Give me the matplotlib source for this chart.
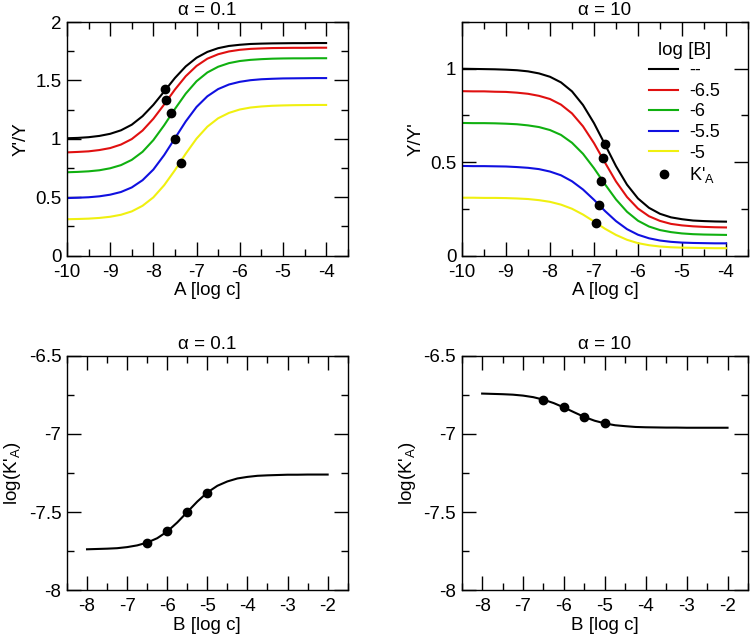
import matplotlib
matplotlib.use('Agg')
import matplotlib.pyplot as plt
from matplotlib.ticker import MultipleLocator, FormatStrFormatter

plt.rcParams['font.family'] = ['Liberation Sans', 'DejaVu Sans']
plt.rcParams['font.size'] = 13.5
plt.rcParams['axes.titlesize'] = 13.5
plt.rcParams['mathtext.default'] = 'regular'
plt.rcParams['axes.unicode_minus'] = False

# log [B] series (black = no B)
b_labels = ['--', '-6.5', '-6', '-5.5', '-5']
colors = ['black', '#e01010', '#10b010', '#1010e0', '#f0f010']

# top panels: x = log [A]
a_log = [-10, -9.75, -9.5, -9.25, -9, -8.75, -8.5, -8.25, -8, -7.75, -7.5, -7.25, -7,
         -6.75, -6.5, -6.25, -6, -5.75, -5.5, -5.25, -5, -4.75, -4.5, -4.25, -4]

# alpha = 0.1, Y'/Y
ratio_low = [
    [1.005, 1.008, 1.014, 1.025, 1.043, 1.073, 1.121, 1.194, 1.291, 1.405, 1.521, 1.620,
     1.694, 1.744, 1.776, 1.795, 1.805, 1.812, 1.815, 1.817, 1.818, 1.819, 1.819, 1.820, 1.820],
    [0.884, 0.888, 0.893, 0.904, 0.921, 0.951, 0.998, 1.071, 1.172, 1.294, 1.422, 1.536,
     1.624, 1.686, 1.724, 1.748, 1.762, 1.770, 1.774, 1.777, 1.778, 1.779, 1.779, 1.780, 1.780],
    [0.714, 0.717, 0.722, 0.731, 0.748, 0.775, 0.820, 0.889, 0.989, 1.116, 1.256, 1.387,
     1.493, 1.568, 1.617, 1.648, 1.666, 1.676, 1.682, 1.686, 1.688, 1.689, 1.689, 1.690, 1.690],
    [0.493, 0.496, 0.500, 0.508, 0.522, 0.545, 0.584, 0.646, 0.737, 0.861, 1.005, 1.149,
     1.273, 1.364, 1.426, 1.465, 1.488, 1.502, 1.510, 1.514, 1.517, 1.518, 1.519, 1.520, 1.520],
    [0.312, 0.314, 0.317, 0.323, 0.333, 0.350, 0.379, 0.427, 0.499, 0.603, 0.732, 0.873,
     1.002, 1.104, 1.176, 1.222, 1.251, 1.268, 1.277, 1.283, 1.286, 1.288, 1.289, 1.290, 1.290],
]
ka_x_low = [-7.74, -7.70, -7.60, -7.50, -7.37]
ka_y_low = [1.43, 1.33, 1.22, 1.00, 0.79]

# alpha = 10, Y/Y'
ratio_high = [
    [1.000, 0.999, 0.998, 0.997, 0.995, 0.992, 0.986, 0.975, 0.957, 0.927, 0.879, 0.806,
     0.709, 0.595, 0.479, 0.380, 0.306, 0.256, 0.224, 0.205, 0.195, 0.188, 0.185, 0.183, 0.182],
    [0.880, 0.879, 0.879, 0.877, 0.876, 0.872, 0.866, 0.855, 0.838, 0.808, 0.761, 0.692,
     0.602, 0.498, 0.397, 0.314, 0.252, 0.211, 0.186, 0.170, 0.162, 0.157, 0.154, 0.152, 0.151],
    [0.710, 0.709, 0.709, 0.708, 0.706, 0.703, 0.697, 0.688, 0.672, 0.646, 0.604, 0.545,
     0.468, 0.382, 0.301, 0.235, 0.187, 0.156, 0.137, 0.126, 0.119, 0.115, 0.113, 0.112, 0.111],
    [0.480, 0.479, 0.479, 0.478, 0.477, 0.474, 0.470, 0.463, 0.450, 0.430, 0.398, 0.354,
     0.299, 0.239, 0.185, 0.142, 0.112, 0.093, 0.081, 0.074, 0.070, 0.068, 0.067, 0.066, 0.066],
    [0.310, 0.310, 0.309, 0.309, 0.308, 0.306, 0.303, 0.297, 0.288, 0.273, 0.251, 0.220,
     0.183, 0.144, 0.111, 0.085, 0.067, 0.056, 0.049, 0.045, 0.043, 0.042, 0.041, 0.040, 0.040],
]
ka_x_high = [-6.74, -6.79, -6.83, -6.89, -6.95]
ka_y_high = [0.60, 0.52, 0.40, 0.27, 0.175]

# bottom panels: x = log [B]
b_log = [-8, -7.75, -7.5, -7.25, -7, -6.75, -6.5, -6.25, -6, -5.75, -5.5, -5.25, -5,
         -4.75, -4.5, -4.25, -4, -3.75, -3.5, -3.25, -3, -2.75, -2.5, -2.25, -2]
logka_low = [-7.739, -7.737, -7.735, -7.732, -7.725, -7.714, -7.696, -7.668, -7.625,
             -7.567, -7.500, -7.433, -7.375, -7.332, -7.304, -7.285, -7.275, -7.268,
             -7.265, -7.263, -7.261, -7.261, -7.260, -7.260, -7.260]
logka_high = [-6.741, -6.743, -6.745, -6.748, -6.754, -6.764, -6.780, -6.802, -6.830,
              -6.861, -6.891, -6.915, -6.932, -6.944, -6.950, -6.955, -6.957, -6.958,
              -6.959, -6.959, -6.960, -6.960, -6.960, -6.960, -6.960]
b_dots = [-6.5, -6, -5.5, -5]
logka_dots_low = [-7.70, -7.62, -7.50, -7.38]
logka_dots_high = [-6.78, -6.83, -6.89, -6.93]


def style(ax):
    ax.xaxis.set_major_locator(MultipleLocator(1))
    ax.xaxis.set_minor_locator(MultipleLocator(0.5))
    ax.yaxis.set_major_locator(MultipleLocator(0.5))
    ax.yaxis.set_minor_locator(MultipleLocator(0.25))
    ax.xaxis.set_major_formatter(FormatStrFormatter('%g'))
    ax.yaxis.set_major_formatter(FormatStrFormatter('%g'))
    ax.tick_params(which='both', direction='in', top=True, right=True, width=1)
    ax.tick_params(which='major', length=10, labelsize=13.5)
    ax.tick_params(axis='x', which='major', pad=6)
    ax.tick_params(axis='y', which='major', pad=4)
    ax.tick_params(which='minor', length=5)
    for s in ax.spines.values():
        s.set_linewidth(1)


fig = plt.figure(figsize=(7.5, 6.36), dpi=100)
ax1 = fig.add_axes([0.0893, 0.598, 0.3743, 0.3674])
ax2 = fig.add_axes([0.616, 0.598, 0.3813, 0.3674])
ax3 = fig.add_axes([0.0893, 0.0723, 0.3743, 0.368])
ax4 = fig.add_axes([0.6156, 0.0723, 0.3817, 0.368])

for ys, c in zip(ratio_low, colors):
    ax1.plot(a_log, ys, color=c, lw=1.5)
ax1.plot(ka_x_low, ka_y_low, 'o', color='black', ms=6, ls='none')
ax1.set_xlim(-10, -3.5)
ax1.set_ylim(0, 2)
style(ax1)
ax1.set_title('α = 0.1', pad=5)
ax1.set_xlabel('A [log c]', labelpad=1)
ax1.set_ylabel("Y'/Y", labelpad=4)

for ys, c, lab in zip(ratio_high, colors, b_labels):
    ax2.plot(a_log, ys, color=c, lw=1.5, label=lab)
ax2.plot(ka_x_high, ka_y_high, 'o', color='black', ms=6, ls='none', label="K'$_A$")
ax2.set_xlim(-10, -3.5)
ax2.set_ylim(0, 1.25)
style(ax2)
ax2.set_title('α = 10', pad=5)
ax2.set_xlabel('A [log c]', labelpad=1)
ax2.set_ylabel("Y/Y'", labelpad=4)
ax2.legend(title='log [B]', frameon=False, loc='upper left',
           bbox_to_anchor=(0.61, 0.97), handlelength=1.6, handletextpad=0.6,
           labelspacing=0.2, fontsize=13, title_fontsize=13.5, borderpad=0.2)

ax3.plot(b_log, logka_low, color='black', lw=1.5)
ax3.plot(b_dots, logka_dots_low, 'o', color='black', ms=6, ls='none')
ax3.set_xlim(-8.5, -1.5)
ax3.set_ylim(-8, -6.5)
style(ax3)
ax3.set_title('α = 0.1', pad=5)
ax3.set_xlabel('B [log c]', labelpad=1)
ax3.set_ylabel("log(K'$_A$)", labelpad=4)

ax4.plot(b_log, logka_high, color='black', lw=1.5)
ax4.plot(b_dots, logka_dots_high, 'o', color='black', ms=6, ls='none')
ax4.set_xlim(-8.5, -1.5)
ax4.set_ylim(-8, -6.5)
style(ax4)
ax4.set_title('α = 10', pad=5)
ax4.set_xlabel('B [log c]', labelpad=1)
ax4.set_ylabel("log(K'$_A$)", labelpad=4)

fig.savefig('out.png', dpi=100)
